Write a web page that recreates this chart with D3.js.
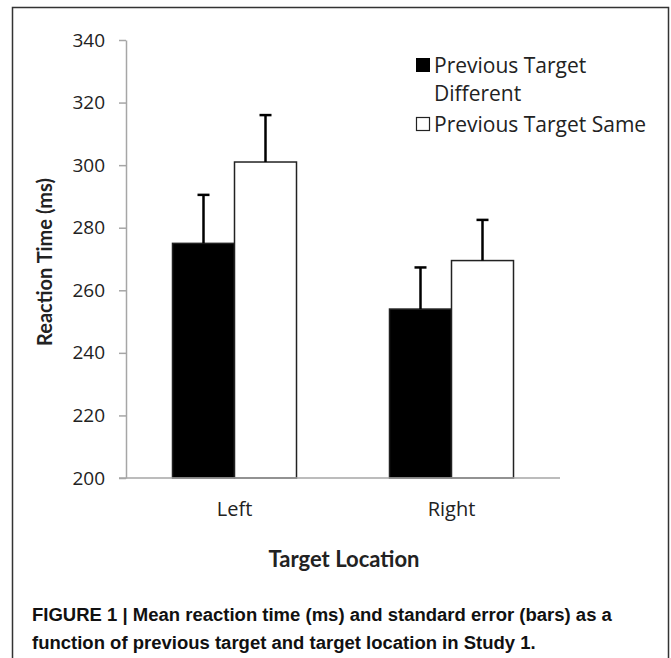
<!DOCTYPE html>
<html lang="en">
<head>
    <meta charset="UTF-8">
    <title>Figure 1</title>
    <script src="https://d3js.org/d3.v7.min.js"></script>
    <style>
        body { margin: 0; background: #fff; }
        .axis path, .axis line { stroke: #a6a6a6; stroke-width: 1.5px; }
        .axis text { font-family: "Open Sans", Lato, sans-serif; font-size: 19px; fill: #222; }
    </style>
</head>
<body>
    <div id="chart"></div>
    <script>
        // values
        var locations = ["Left", "Right"];
        var seriesNames = ["Previous Target Different", "Previous Target Same"];
        var rtDifferent = [275, 254];
        var rtSame = [301, 269.5];
        var seDifferent = [15.5, 13.3];
        var seSame = [15, 13];
        var yTicks = [200, 220, 240, 260, 280, 300, 320, 340];

        var width = 671, height = 658;
        var plot = {left: 126, right: 560, top: 40, bottom: 478};
        var font = "'Open Sans', Lato, sans-serif";

        var svg = d3.select("#chart").append("svg")
            .attr("width", width)
            .attr("height", height);

        svg.append("rect")
            .attr("x", 12.5).attr("y", 7.5)
            .attr("width", 656).attr("height", 680)
            .attr("fill", "none")
            .attr("stroke", "#333")
            .attr("stroke-width", 1.5);

        var data = [];
        locations.forEach(function(loc, i) {
            data.push({loc: loc, s: 0, value: rtDifferent[i], se: seDifferent[i]});
            data.push({loc: loc, s: 1, value: rtSame[i], se: seSame[i]});
        });

        var xScale = d3.scaleBand()
            .domain(locations)
            .range([plot.left, plot.right]);

        var xInner = d3.scaleBand()
            .domain([0, 1])
            .range([0, 124]);

        var yScale = d3.scaleLinear()
            .domain([200, 340])
            .range([plot.bottom, plot.top]);

        function barX(d) {
            return xScale(d.loc) + xScale.bandwidth() / 2 - 62 + xInner(d.s);
        }

        // y axis
        var yAxis = d3.axisLeft(yScale)
            .tickValues(yTicks)
            .tickSize(7)
            .tickSizeOuter(0)
            .tickPadding(14);

        svg.append("g")
            .attr("class", "y axis")
            .attr("transform", "translate(" + plot.left + ",0)")
            .call(yAxis);

        // bars
        svg.selectAll(".bar")
            .data(data)
            .enter()
            .append("rect")
            .attr("class", "bar")
            .attr("x", barX)
            .attr("y", function(d) { return yScale(d.value); })
            .attr("width", xInner.bandwidth())
            .attr("height", function(d) { return plot.bottom - yScale(d.value); })
            .attr("fill", function(d) { return d.s === 0 ? "#000" : "#fff"; })
            .attr("stroke", "#222")
            .attr("stroke-width", 1.5);

        // error bars (upper only)
        var err = svg.selectAll(".err")
            .data(data)
            .enter()
            .append("g")
            .attr("class", "err")
            .attr("transform", function(d) {
                return "translate(" + (barX(d) + xInner.bandwidth() / 2) + ",0)";
            });

        err.append("line")
            .attr("x1", 0).attr("x2", 0)
            .attr("y1", function(d) { return yScale(d.value); })
            .attr("y2", function(d) { return yScale(d.value + d.se); })
            .attr("stroke", "#000")
            .attr("stroke-width", 2.5);

        err.append("line")
            .attr("x1", -6).attr("x2", 6)
            .attr("y1", function(d) { return yScale(d.value + d.se); })
            .attr("y2", function(d) { return yScale(d.value + d.se); })
            .attr("stroke", "#000")
            .attr("stroke-width", 2.5);

        // x axis
        var xAxis = d3.axisBottom(xScale)
            .tickSize(0)
            .tickPadding(24);

        svg.append("g")
            .attr("class", "x axis")
            .attr("transform", "translate(0," + plot.bottom + ")")
            .call(xAxis)
            .select(".domain")
            .attr("d", "M" + (plot.left - 7) + ",0H" + plot.right);

        svg.selectAll(".x.axis text").style("font-size", "20px");

        // axis titles
        svg.append("text")
            .attr("transform", "translate(52,262) rotate(-90)")
            .attr("text-anchor", "middle")
            .style("font-family", "Lato, 'Open Sans', sans-serif")
            .style("font-weight", "bold")
            .style("font-size", "20px")
            .attr("fill", "#222")
            .text("Reaction Time (ms)");

        svg.append("text")
            .attr("x", 344)
            .attr("y", 567)
            .attr("text-anchor", "middle")
            .style("font-family", "Lato, 'Open Sans', sans-serif")
            .style("font-weight", "bold")
            .style("font-size", "22px")
            .attr("fill", "#222")
            .text("Target Location");

        // legend
        svg.append("rect")
            .attr("x", 416).attr("y", 58).attr("width", 14).attr("height", 14)
            .attr("fill", "#000");
        svg.append("text")
            .attr("x", 434).attr("y", 73)
            .style("font-family", font).style("font-size", "21px").attr("fill", "#222")
            .text("Previous Target");
        svg.append("text")
            .attr("x", 434).attr("y", 101)
            .style("font-family", font).style("font-size", "21px").attr("fill", "#222")
            .text("Different");
        svg.append("rect")
            .attr("x", 416.5).attr("y", 117.5).attr("width", 13).attr("height", 13)
            .attr("fill", "#fff").attr("stroke", "#222").attr("stroke-width", 1.2);
        svg.append("text")
            .attr("x", 434).attr("y", 132)
            .style("font-family", font).style("font-size", "21px").attr("fill", "#222")
            .text(seriesNames[1]);

        // caption, bold and horizontally condensed
        var captionLines = [
            "FIGURE 1 | Mean reaction time (ms) and standard error (bars) as a",
            "function of previous target and target location in Study 1."
        ];
        var caption = svg.append("g");
        var capText = caption.selectAll("text")
            .data(captionLines)
            .enter()
            .append("text")
            .attr("x", 0)
            .attr("y", function(d, i) { return i * 28; })
            .style("font-family", "'Liberation Sans', Arial, sans-serif")
            .style("font-weight", "bold")
            .style("font-size", "18px")
            .attr("fill", "#111")
            .text(function(d) { return d; });
        var firstLen = capText.node().getComputedTextLength();
        var sx = 580 / firstLen;
        caption.attr("transform", "translate(32,621) scale(" + sx + ",1)");
    </script>
</body>
</html>
